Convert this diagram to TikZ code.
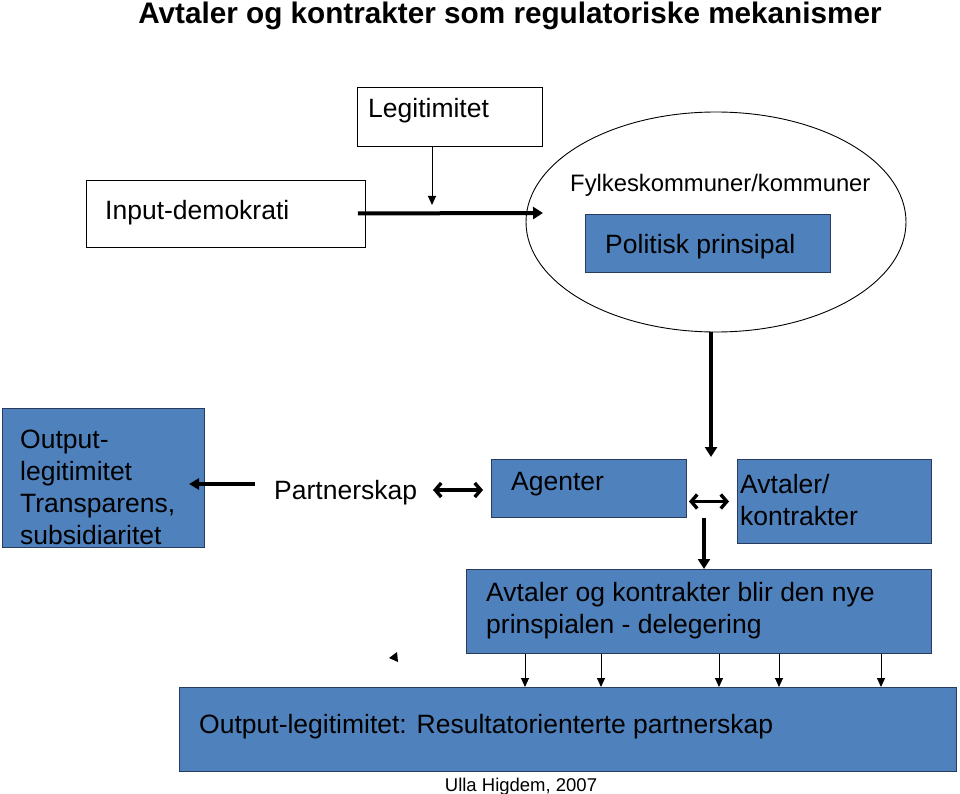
\documentclass[tikz,border=0pt]{standalone}
\usepackage{fontspec}
\setmainfont{Liberation Sans}
\usetikzlibrary{arrows.meta,shapes.geometric}
\definecolor{boxblue}{RGB}{79,129,189}
\definecolor{boxedge}{RGB}{40,60,95}
\tikzset{
  wbox/.style={draw=black, line width=0.9pt, fill=white, inner sep=0pt, anchor=north west},
  bbox/.style={draw=boxedge, line width=1pt, fill=boxblue, inner sep=0pt, anchor=north west},
  txt/.style={anchor=base west, inner sep=0pt, font=\fontsize{26.5}{32}\selectfont, align=left},
  thinarrow/.style={line width=1pt, -{Triangle[length=9pt,width=8pt]}},
  bigarrow/.style={line width=3.6pt, -{Triangle[length=10pt,width=12pt]}},
  duoarrow/.style={line width=3.4pt, {Straight Barb[length=6pt,width=14pt]}-{Straight Barb[length=6pt,width=14pt]}},
}
\begin{document}
\begin{tikzpicture}[x=1pt,y=-1pt]
\useasboundingbox (0,0) rectangle (960,794);
% title
\node[anchor=base, inner sep=0pt, font=\bfseries\fontsize{29.7}{34}\selectfont] (title) at (510,24) {Avtaler og kontrakter som regulatoriske mekanismer};
% boxes
\node[wbox, minimum width=185pt, minimum height=59pt] (leg) at (357,87) {};
\node[wbox, minimum width=279pt, minimum height=67pt] (inp) at (86,180) {};
\node[draw=black, line width=0.9pt, ellipse, minimum width=380pt, minimum height=220pt, inner sep=0pt] (ell) at (716,222) {};
\node[bbox, minimum width=245pt, minimum height=58pt] (pol) at (585,214) {};
\node[bbox, minimum width=202pt, minimum height=139pt] (out) at (2,408) {};
\node[bbox, minimum width=195pt, minimum height=58pt] (age) at (491,459) {};
\node[bbox, minimum width=194pt, minimum height=84pt] (avt) at (737,459) {};
\node[bbox, minimum width=465pt, minimum height=84pt] (nye) at (466,569) {};
\node[bbox, minimum width=777pt, minimum height=84pt] (res) at (179,687) {};
% texts
\node[txt] (tleg) at (368,118) {Legitimitet};
\node[txt] (tinp) at (105,219.5) {Input-demokrati};
\node[txt, font=\fontsize{23.8}{28}\selectfont] (tfyl) at (570,192) {Fylkeskommuner/kommuner};
\node[txt] (tpol) at (605,253.5) {Politisk prinsipal};
\node[txt] (tout) at (20,544) {Output-\\legitimitet\\Transparens,\\subsidiaritet};
\node[txt] (tpar) at (274,499.5) {Partnerskap};
\node[txt] (tage) at (511,490.5) {Agenter};
\node[txt] (tavt) at (740,525) {Avtaler/\\kontrakter};
\node[txt] (tnye) at (486,633) {Avtaler og kontrakter blir den nye\\prinspialen - delegering};
\node[txt] (tres) at (199,733.5) {Output-legitimitet: Resultatorienterte partnerskap};
\node[anchor=base, inner sep=0pt, font=\fontsize{18.5}{22}\selectfont] (foot) at (521,791) {Ulla Higdem, 2007};
% connectors
\coordinate (inpEnd) at (543,213);
\coordinate (legEnd) at (432,205);
\coordinate (ellEnd) at (711,457);
\coordinate (outEnd) at (189,484);
\coordinate (parR) at (433,490);
\coordinate (ageL) at (483,490);
\coordinate (delTop) at (704,518);
\draw[thinarrow] ([xshift=75pt]leg.south west) -- (legEnd);
\draw[line width=4pt, -{Triangle[length=10pt,width=12pt]}] ([xshift=-8pt,yshift=0.5pt]inp.east) -- (inpEnd);
\draw[bigarrow] ([xshift=-5pt]ell.south) -- (ellEnd);
\draw[line width=3.6pt, -{Triangle[length=10pt,width=11pt]}] ([xshift=-19pt]tpar.west |- outEnd) -- (outEnd);
\draw[duoarrow] (parR) -- (ageL);
\draw[duoarrow] ([xshift=2pt,yshift=-13pt]age.east) -- ([xshift=-8pt,yshift=-13pt]age.east -| avt.west);
\draw[bigarrow] (delTop) -- (delTop |- nye.north);
\foreach \xx in {525,601,719,779,881}
  \draw[thinarrow] (nye.south -| \xx,0) -- (res.north -| \xx,0);
% stray arrowhead
\fill (389,658) -- (397,652) -- (398,662) -- cycle;
\end{tikzpicture}
\end{document}
